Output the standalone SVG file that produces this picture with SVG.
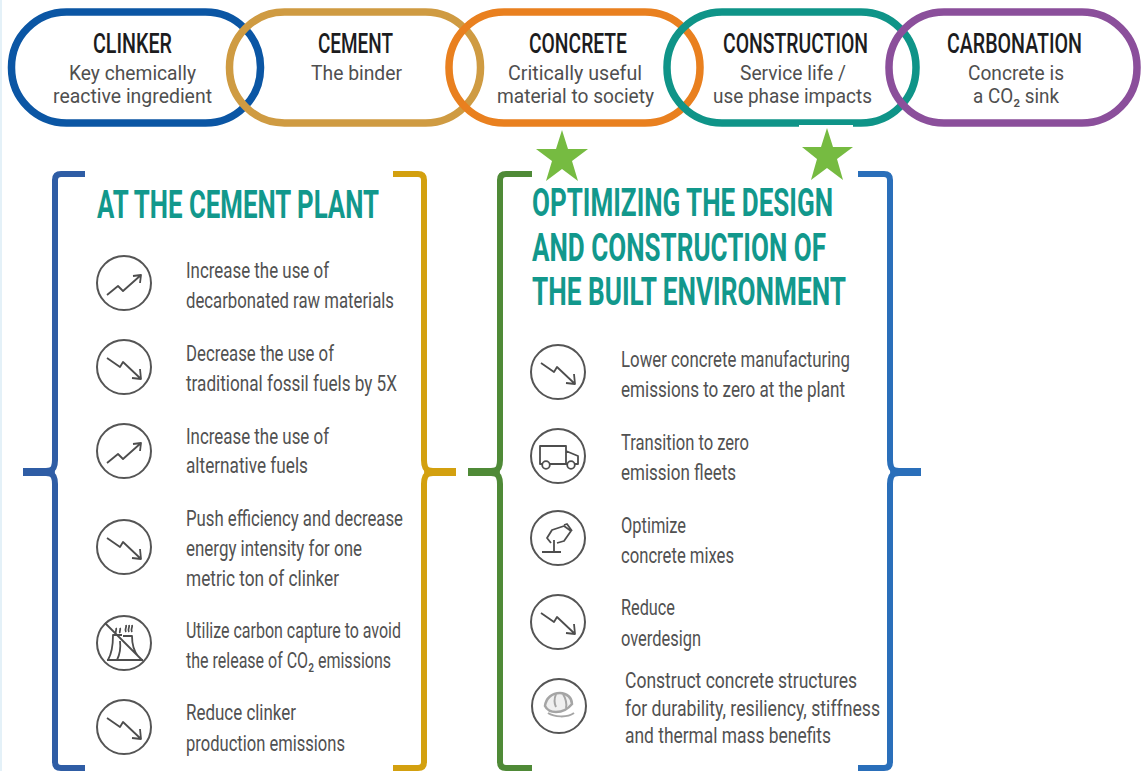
<svg xmlns="http://www.w3.org/2000/svg" width="1141" height="771" viewBox="0 0 1141 771">
<style>
text{font-family:Roboto,"Liberation Sans",sans-serif}
.h{font-size:27px;font-weight:500;fill:#1c1c1e;text-anchor:start}
.s{font-size:20px;fill:#4f4f4f}
.t{font-size:38px;font-weight:700;fill:#12988c}
.b{font-size:22px;fill:#515151}
.pill{fill:none;stroke-width:7.5}
.br{fill:none;stroke-width:6;stroke-linejoin:round;stroke-linecap:butt}
.tip{stroke-width:0}
.c{fill:none;stroke:#555;stroke-width:2}
.i{fill:none;stroke:#4d4d4d;stroke-width:1.8;stroke-linejoin:round}
.star{fill:#76bb41}
</style>
<defs>
<g id="up"><circle class="c" r="27"/><path class="i" d="M-17 12L-6 3L-1 8L17-8M9-7L17-8L16 0"/></g>
<g id="down"><circle class="c" r="27"/><path class="i" d="M-17-9L-4 0L-1-5L17 12M8 11L17 12L16 2"/></g>
</defs>
<rect width="1141" height="771" fill="#fff"/>
<rect width="2" height="771" fill="#e4f1f8"/>
<g id="clinker"><rect class="pill" x="11.500" y="12" width="249" height="111" rx="55" stroke="#0b56a4"/>
<text class="h" x="93" y="53" textLength="79" lengthAdjust="spacingAndGlyphs">CLINKER</text>
<text class="s" x="69" y="80" textLength="127" lengthAdjust="spacingAndGlyphs">Key chemically</text>
<text class="s" x="53" y="103" textLength="159" lengthAdjust="spacingAndGlyphs">reactive ingredient</text></g>
<g id="cement"><rect class="pill" x="229.500" y="12" width="251" height="111" rx="55" stroke="#cf9b42"/>
<text class="h" x="318" y="53" textLength="75" lengthAdjust="spacingAndGlyphs">CEMENT</text>
<text class="s" x="311" y="80" textLength="91" lengthAdjust="spacingAndGlyphs">The binder</text></g>
<g id="concrete"><rect class="pill" x="449" y="12" width="251" height="111" rx="55" stroke="#e9801f"/>
<text class="h" x="529" y="53" textLength="98" lengthAdjust="spacingAndGlyphs">CONCRETE</text>
<text class="s" x="508" y="80" textLength="134" lengthAdjust="spacingAndGlyphs">Critically useful</text>
<text class="s" x="497" y="103" textLength="157" lengthAdjust="spacingAndGlyphs">material to society</text></g>
<g id="construction"><rect class="pill" x="667" y="12" width="249" height="111" rx="55" stroke="#0f9488"/>
<rect x="799" y="125" width="54" height="3" fill="#fff"/>
<text class="h" x="723" y="53" textLength="145" lengthAdjust="spacingAndGlyphs">CONSTRUCTION</text>
<text class="s" x="740" y="80" textLength="106" lengthAdjust="spacingAndGlyphs">Service life /</text>
<text class="s" x="713" y="103" textLength="159" lengthAdjust="spacingAndGlyphs">use phase impacts</text></g>
<g id="carbonation"><rect class="pill" x="889" y="12" width="248" height="111" rx="55" stroke="#8b4f9b"/>
<text class="h" x="947" y="53" textLength="135" lengthAdjust="spacingAndGlyphs">CARBONATION</text>
<text class="s" x="968" y="80" textLength="96" lengthAdjust="spacingAndGlyphs">Concrete is</text>
<text class="s" x="973" y="103" textLength="86" lengthAdjust="spacingAndGlyphs">a CO₂ sink</text></g>
<g id="stars">
<polygon class="star" points="562,130 568,149 588,149 572,161 578,181 562,169 546,181 552,161 536,149 556,149"/>
<polygon class="star" points="827,128 833,147 853,147 837,159 843,180 827,168 811,180 817,159 802,147 821,147"/>
</g>
<g id="connectors">
<path class="br" stroke="#2f5da5" d="M85 174H61Q55 174 55 180V460Q55 469 50 471M50 473Q55 475 55 484V762Q55 768 61 768H85"/>
<path class="tip" fill="#2f5da5" d="M23 468H46Q50 468 53 466L55 472L53 478Q50 476 46 476H23Z"/>
<path class="br" stroke="#d3a00f" d="M393 174H418Q424 174 424 180V460Q424 469 429 471M429 473Q424 475 424 484V762Q424 768 418 768H393"/>
<path class="tip" fill="#d3a00f" d="M456 468H433Q429 468 426 466L424 472L426 478Q429 476 433 476H456Z"/>
<path class="br" stroke="#4f8a37" d="M532 174H506Q500 174 500 180V460Q500 469 495 471M495 473Q500 475 500 484V762Q500 768 506 768H532"/>
<path class="tip" fill="#4f8a37" d="M468 468H491Q495 468 498 466L500 472L498 478Q495 476 491 476H468Z"/>
<path class="br" stroke="#2a6fba" d="M858 174H884Q890 174 890 180V460Q890 469 895 471M895 473Q890 475 890 484V762Q890 768 884 768H858"/>
<path class="tip" fill="#2a6fba" d="M921 468H899Q895 468 892 466L890 472L892 478Q895 476 899 476H921Z"/>
</g>
<g id="plant">
<text class="t" x="97" y="218" textLength="282" lengthAdjust="spacingAndGlyphs">AT THE CEMENT PLANT</text>
<g id="p1"><use href="#up" x="124" y="283"/><text class="b" x="186" y="278" textLength="143" lengthAdjust="spacingAndGlyphs">Increase the use of</text><text class="b" x="186" y="308" textLength="208" lengthAdjust="spacingAndGlyphs">decarbonated raw materials</text></g>
<g id="p2"><use href="#down" x="124" y="367"/><text class="b" x="186" y="361" textLength="148" lengthAdjust="spacingAndGlyphs">Decrease the use of</text><text class="b" x="186" y="391" textLength="211" lengthAdjust="spacingAndGlyphs">traditional fossil fuels by 5X</text></g>
<g id="p3"><use href="#up" x="124" y="451"/><text class="b" x="186" y="444" textLength="143" lengthAdjust="spacingAndGlyphs">Increase the use of</text><text class="b" x="186" y="473" textLength="122" lengthAdjust="spacingAndGlyphs">alternative fuels</text></g>
<g id="p4"><use href="#down" x="124" y="547"/><text class="b" x="186" y="526" textLength="217" lengthAdjust="spacingAndGlyphs">Push efficiency and decrease</text><text class="b" x="186" y="556" textLength="176" lengthAdjust="spacingAndGlyphs">energy intensity for one</text><text class="b" x="186" y="586" textLength="153" lengthAdjust="spacingAndGlyphs">metric ton of clinker</text></g>
<g id="p5"><g transform="translate(124 643)"><circle class="c" r="27"/><path class="i" d="M-19-20L19 18M-17 17H19M-16 17C-12 10-11 4-11-8H-2M-7 17C-4 11-3 6-4-2M-1-7H8C8 1 9 7 14 13M2-11C0-14 3-15 2-18M5-11C3-14 6-15 5-18M8-11C6-14 9-15 8-18M-8-10C-9-12-7-13-8-15M-4-10C-5-12-3-13-4-15"/></g><text class="b" x="186" y="638" textLength="215" lengthAdjust="spacingAndGlyphs">Utilize carbon capture to avoid</text><text class="b" x="186" y="668" textLength="205" lengthAdjust="spacingAndGlyphs">the release of CO₂ emissions</text></g>
<g id="p6"><use href="#down" x="124" y="727"/><text class="b" x="186" y="720" textLength="110" lengthAdjust="spacingAndGlyphs">Reduce clinker</text><text class="b" x="186" y="751" textLength="159" lengthAdjust="spacingAndGlyphs">production emissions</text></g>
</g>
<g id="design">
<text class="t" x="532" y="216" textLength="301" lengthAdjust="spacingAndGlyphs">OPTIMIZING THE DESIGN</text>
<text class="t" x="532" y="261" textLength="294" lengthAdjust="spacingAndGlyphs">AND CONSTRUCTION OF</text>
<text class="t" x="532" y="305" textLength="314" lengthAdjust="spacingAndGlyphs">THE BUILT ENVIRONMENT</text>
<g id="d1"><use href="#down" x="558" y="372"/><text class="b" x="621" y="367" textLength="229" lengthAdjust="spacingAndGlyphs">Lower concrete manufacturing</text><text class="b" x="621" y="397" textLength="224" lengthAdjust="spacingAndGlyphs">emissions to zero at the plant</text></g>
<g id="d2"><g transform="translate(558 456)"><circle class="c" r="27"/><path class="i" d="M-16 8H-18V-10H8V8H-8M8-5L20 0V8H17M8 8H9"/><circle class="i" cx="-12" cy="9" r="3.800"/><circle class="i" cx="13" cy="9" r="3.800"/></g><text class="b" x="621" y="450" textLength="128" lengthAdjust="spacingAndGlyphs">Transition to zero</text><text class="b" x="621" y="480" textLength="115" lengthAdjust="spacingAndGlyphs">emission fleets</text></g>
<g id="d3"><g transform="translate(558 538)"><circle class="c" r="27"/><path class="i" d="M-4 2V14M-16 14H3M-7 5L-11 0L-6-8L6-12L13-7L6 3L-1 5M6-13L9-14L14-7"/></g><text class="b" x="621" y="533" textLength="65" lengthAdjust="spacingAndGlyphs">Optimize</text><text class="b" x="621" y="563" textLength="113" lengthAdjust="spacingAndGlyphs">concrete mixes</text></g>
<g id="d4"><use href="#down" x="558" y="622"/><text class="b" x="621" y="615" textLength="54" lengthAdjust="spacingAndGlyphs">Reduce</text><text class="b" x="621" y="646" textLength="80" lengthAdjust="spacingAndGlyphs">overdesign</text></g>
<g id="d5"><g transform="translate(559 706)"><circle class="c" r="27"/><path fill="#f0f0f0" stroke="#a5a5a5" stroke-width="2.500" d="M-14 0C-13-8-7-13 1-13C8-13 13-8 13-2C9 3 3 6-3 6C-8 6-12 4-14 0Z"/><path fill="none" stroke="#a5a5a5" stroke-width="2" d="M-3-12C-5-7-5-3-3 1M4-12C7-7 8-3 7 2M-11 7C-5 11 8 12 15 7"/></g><text class="b" x="625" y="688" textLength="232" lengthAdjust="spacingAndGlyphs">Construct concrete structures</text><text class="b" x="625" y="716" textLength="255" lengthAdjust="spacingAndGlyphs">for durability, resiliency, stiffness</text><text class="b" x="625" y="743" textLength="206" lengthAdjust="spacingAndGlyphs">and thermal mass benefits</text></g>
</g>
</svg>
